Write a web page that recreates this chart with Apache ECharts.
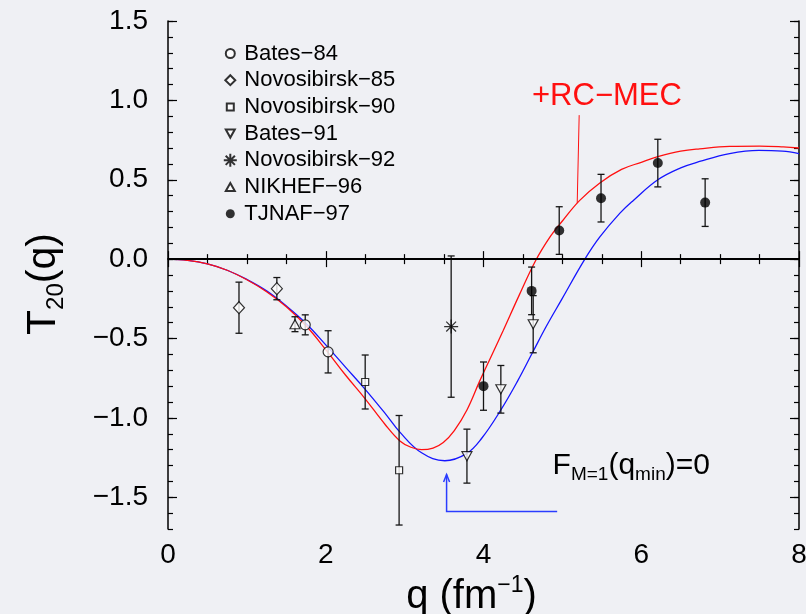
<!DOCTYPE html>
<html>
<head>
<meta charset="utf-8">
<script src="https://cdn.jsdelivr.net/npm/echarts@6/dist/echarts.min.js"></script>
<style>
  html, body { margin: 0; padding: 0; background: #eff0f4; }
  #chart { width: 806px; height: 614px; }
</style>
</head>
<body>
<div id="chart"></div>
<script>
// Deuteron tensor polarization T20(q): world data [q (fm^-1), T20, error]
const bates84 = [[1.74, -0.414, 0.063], [2.03, -0.584, 0.133]];
const novosibirsk85 = [[0.90, -0.306, 0.161], [1.38, -0.186, 0.07]];
const novosibirsk90 = [[2.50, -0.774, 0.17], [2.93, -1.33, 0.345]];
const bates91 = [[3.79, -1.241, 0.17], [4.22, -0.82, 0.15], [4.63, -0.41, 0.18]];
const novosibirsk92 = [[3.59, -0.425, 0.445]];
const nikhef96 = [[1.61, -0.41, 0.047]];
const tjnaf97 = [[4.00, -0.80, 0.152], [4.61, -0.20, 0.15], [4.96, 0.18, 0.15],
                 [5.49, 0.384, 0.15], [6.21, 0.605, 0.15], [6.81, 0.356, 0.15]];

// Theory curves
const redQ = [0, 0.25, 0.5, 0.75, 1.0, 1.25, 1.5, 1.75, 2.0, 2.25, 2.5, 2.75, 2.94, 3.08, 3.215, 3.36,
              3.49, 3.63, 3.79, 3.95, 4.1, 4.25, 4.45, 4.66, 4.85, 5.0, 5.22, 5.475, 5.75, 6.0, 6.21,
              6.5, 6.74, 7.12, 7.5, 7.8, 8.0];
const redT = [0, -0.008, -0.03, -0.07, -0.13, -0.205, -0.30, -0.42, -0.57, -0.73, -0.88, -1.04, -1.145,
              -1.185, -1.20, -1.19, -1.155, -1.08, -0.95, -0.77, -0.61, -0.45, -0.23, -0.01, 0.145, 0.24,
              0.37, 0.48, 0.565, 0.61, 0.645, 0.68, 0.695, 0.71, 0.712, 0.707, 0.70];
const blueQ = [0, 0.25, 0.5, 0.75, 1.0, 1.25, 1.5, 1.75, 2.0, 2.25, 2.5, 2.75, 2.94, 3.215, 3.51, 3.785,
               3.975, 4.22, 4.43, 4.62, 4.8, 4.99, 5.285, 5.475, 5.73, 5.9, 6.21, 6.5, 6.74, 7.12, 7.49,
               7.79, 8.0];
const blueT = [0, -0.008, -0.03, -0.07, -0.128, -0.20, -0.295, -0.405, -0.54, -0.68, -0.82, -0.97,
               -1.09, -1.22, -1.27, -1.225, -1.13, -0.95, -0.77, -0.59, -0.42, -0.255, 0, 0.14, 0.29,
               0.37, 0.50, 0.575, 0.615, 0.665, 0.685, 0.68, 0.665];

const xLabels = [0, 2, 4, 6, 8];
const yLabels = [-1.5, -1.0, -0.5, 0, 0.5, 1.0, 1.5];

const FONT = '"Liberation Sans", Arial, Helvetica, sans-serif';
const minus = s => String(s).replace('-', '\u2212');

const chart = echarts.init(document.getElementById('chart'), null, { renderer: 'canvas' });

const pairs = (qs, ts) => qs.map((q, i) => [q, ts[i]]);
const pts = arr => arr.map(d => [d[0], d[1]]);
const allErr = [].concat(bates84, novosibirsk85, novosibirsk90, bates91, novosibirsk92, nikhef96, tjnaf97);

const openStyle = { color: '#ffffff', borderColor: '#000', borderWidth: 1.2 };
const frame = { lineStyle: { color: '#000', width: 1.5 } };
const tickStyle = { color: '#000', width: 1.2 };

// Legend glyphs in a fixed 14x14 box so each keeps its own size
const box = 'M0,0M14,14';
const legendIcons = {
  'Bates\u221284': 'path://' + box + 'M2.5,7A4.5,4.5 0 1 1 11.5,7A4.5,4.5 0 1 1 2.5,7Z',
  'Novosibirsk\u221285': 'path://' + box + 'M7,2L12,7L7,12L2,7Z',
  'Novosibirsk\u221290': 'path://' + box + 'M3.5,3.5L10.5,3.5L10.5,10.5L3.5,10.5Z',
  'Bates\u221291': 'path://' + box + 'M2.5,3L11.5,3L7,11Z',
  'Novosibirsk\u221292': 'path://' + box + 'M7,0.5L7,13.5M0.5,7L13.5,7M2.4,2.4L11.6,11.6M2.4,11.6L11.6,2.4',
  'NIKHEF\u221296': 'path://' + box + 'M7,3L11.5,11L2.5,11Z',
  'TJNAF\u221297': 'path://' + box + 'M2.5,7A4.5,4.5 0 1 1 11.5,7A4.5,4.5 0 1 1 2.5,7Z'
};

const yBase = { type: 'value', min: -1.7, max: 1.5, interval: 0.1, splitLine: { show: false } };

const option = {
  backgroundColor: '#eff0f4',
  animation: false,
  grid: { left: 168, right: 7, top: 21, bottom: 85, outerBoundsMode: 'none' },
  legend: {
    orient: 'vertical', left: 222.3, top: 42.5, padding: 0,
    itemWidth: 14, itemHeight: 14, itemGap: 4.7, selectedMode: false,
    textStyle: { fontSize: 22, fontFamily: FONT, color: '#000', padding: [0, 0, 0, 2] },
    data: Object.keys(legendIcons).map(n => ({ name: n, icon: legendIcons[n] }))
  },
  xAxis: [
    {
      type: 'value', position: 'bottom', min: 0, max: 8, interval: 2,
      axisLine: frame, splitLine: { show: false },
      axisTick: { inside: true, length: 8, lineStyle: tickStyle },
      minorTick: { show: true, splitNumber: 4, length: 5, lineStyle: tickStyle },
      axisLabel: { customValues: xLabels, fontSize: 28, fontFamily: FONT, color: '#000', margin: 12 },
      name: '{n|q (fm}{p|\u22121}{n|)}',
      nameLocation: 'middle', nameGap: 35,
      nameTextStyle: {
        padding: [0, 24, 0, 0],
        rich: {
          n: { fontSize: 40, fontFamily: FONT, color: '#000' },
          p: { fontSize: 23, fontFamily: FONT, color: '#000', padding: [0, 0, 23, 0] }
        }
      }
    },
    {
      type: 'value', position: 'top', min: 0, max: 8, interval: 2,
      axisLine: frame, splitLine: { show: false },
      axisTick: { inside: true, length: 8, lineStyle: tickStyle },
      minorTick: { show: true, splitNumber: 4, length: 5, lineStyle: tickStyle },
      axisLabel: { show: false }
    }
  ],
  yAxis: [
    Object.assign({}, yBase, {
      position: 'left', axisLine: frame,
      axisTick: { inside: true, length: 5, lineStyle: tickStyle },
      axisLabel: {
        customValues: yLabels, fontSize: 28, fontFamily: FONT, color: '#000', margin: 20,
        formatter: v => minus(Number(v).toFixed(1))
      },
      name: '{n|T}{s|20}{n|(q)}',
      nameLocation: 'middle', nameGap: 100,
      nameTextStyle: {
        padding: [0, 18, 0, 0],
        rich: {
          n: { fontSize: 41, fontFamily: FONT, color: '#000' },
          s: { fontSize: 24, fontFamily: FONT, color: '#000', padding: [24, 0, 0, 0] }
        }
      }
    }),
    Object.assign({}, yBase, {
      position: 'left', axisLine: { show: false },
      axisTick: { customValues: yLabels, inside: true, length: 9, lineStyle: tickStyle },
      axisLabel: { show: false }
    }),
    Object.assign({}, yBase, {
      position: 'right', axisLine: frame,
      axisTick: { inside: true, length: 5, lineStyle: tickStyle },
      axisLabel: { show: false }
    }),
    Object.assign({}, yBase, {
      position: 'right', axisLine: { show: false },
      axisTick: { customValues: yLabels, inside: true, length: 9, lineStyle: tickStyle },
      axisLabel: { show: false }
    })
  ],
  series: [
    {
      name: 'full', type: 'line', data: pairs(blueQ, blueT), smooth: 0.4,
      showSymbol: false, lineStyle: { color: '#1515ff', width: 1.3 }, z: 2, silent: true
    },
    {
      name: '+RC\u2212MEC', type: 'line', data: pairs(redQ, redT), smooth: 0.4,
      showSymbol: false, lineStyle: { color: '#ff1010', width: 1.3 }, z: 2, silent: true,
      markLine: {
        silent: true, symbol: 'none', label: { show: false },
        data: [
          [{ coord: [0, 0], lineStyle: { color: '#000', width: 2, type: 'solid' } }, { coord: [8, 0] }],
          [{ coord: [5.213, 0.907], lineStyle: { color: '#ff1010', width: 1, type: 'solid' } }, { coord: [5.188, 0.353] }]
        ]
      }
    },
    {
      name: 'errors', type: 'custom', data: allErr, z: 3, silent: true,
      encode: { x: 0, y: 1 },
      renderItem: (params, api) => {
        const q = api.value(0), t = api.value(1), e = api.value(2);
        const top = api.coord([q, t + e]);
        const bot = api.coord([q, t - e]);
        const hw = 3.5;
        const st = { stroke: '#151515', lineWidth: 1.3 };
        return {
          type: 'group',
          children: [
            { type: 'line', shape: { x1: top[0], y1: top[1], x2: bot[0], y2: bot[1] }, style: st },
            { type: 'line', shape: { x1: top[0] - hw, y1: top[1], x2: top[0] + hw, y2: top[1] }, style: st },
            { type: 'line', shape: { x1: bot[0] - hw, y1: bot[1], x2: bot[0] + hw, y2: bot[1] }, style: st }
          ]
        };
      }
    },
    { name: 'Bates\u221284', type: 'scatter', data: pts(bates84), symbol: 'circle', symbolSize: 10,
      itemStyle: openStyle, z: 5 },
    { name: 'Novosibirsk\u221285', type: 'scatter', data: pts(novosibirsk85), symbol: 'diamond', symbolSize: [11, 12],
      itemStyle: openStyle, z: 5 },
    { name: 'Novosibirsk\u221290', type: 'scatter', data: pts(novosibirsk90), symbol: 'rect', symbolSize: 7,
      itemStyle: openStyle, z: 5 },
    { name: 'Bates\u221291', type: 'scatter', data: pts(bates91), symbol: 'path://M0,0L10,0L5,9Z', symbolSize: [10, 9],
      itemStyle: openStyle, z: 5 },
    { name: 'Novosibirsk\u221292', type: 'scatter', data: pts(novosibirsk92),
      symbol: 'path://M5,0L5,10M0,5L10,5M1.5,1.5L8.5,8.5M1.5,8.5L8.5,1.5', symbolSize: 14,
      itemStyle: { color: 'rgba(0,0,0,0)', borderColor: '#000', borderWidth: 1.2 }, z: 5 },
    { name: 'NIKHEF\u221296', type: 'scatter', data: pts(nikhef96), symbol: 'triangle', symbolSize: [10, 9],
      itemStyle: openStyle, z: 5 },
    { name: 'TJNAF\u221297', type: 'scatter', data: pts(tjnaf97), symbol: 'circle', symbolSize: 10,
      itemStyle: { color: '#000', borderColor: '#000', borderWidth: 0 }, z: 5 }
  ]
};

chart.setOption(option);

// Annotations placed in data coordinates
function drawAnnotations() {
  const px = p => chart.convertToPixel({ xAxisIndex: 0, yAxisIndex: 0 }, p);
  const lbl = px([5.565, 1.027]);
  const fm = px([4.876, -1.301]);
  const tip = px([3.532, -1.357]);
  const corner = px([3.532, -1.59]);
  const end = px([4.934, -1.59]);
  const arrowColor = '#2a3cff';
  chart.setOption({
    graphic: [
      { type: 'text', x: lbl[0], y: lbl[1], silent: true,
        style: { text: '+RC\u2212MEC', fill: '#ff1010', font: '31px ' + FONT, align: 'center', verticalAlign: 'middle' } },
      { type: 'text', x: fm[0], y: fm[1], silent: true,
        style: {
          text: '{n|F}{s|M=1}{n|(q}{s|min}{n|)=0}', align: 'left', verticalAlign: 'middle',
          rich: {
            n: { fontSize: 30, fontFamily: FONT, fill: '#000' },
            s: { fontSize: 19, fontFamily: FONT, fill: '#000', padding: [18, 0, 0, 0] }
          }
        } },
      { type: 'polyline', silent: true,
        shape: { points: [tip, corner, end] },
        style: { stroke: arrowColor, lineWidth: 1.5, fill: null } },
      { type: 'polyline', silent: true,
        shape: { points: [[tip[0] - 3, tip[1] + 7.5], tip, [tip[0] + 3, tip[1] + 7.5]] },
        style: { stroke: arrowColor, lineWidth: 1.5, fill: null } }
    ]
  });
}
drawAnnotations();
</script>
</body>
</html>
